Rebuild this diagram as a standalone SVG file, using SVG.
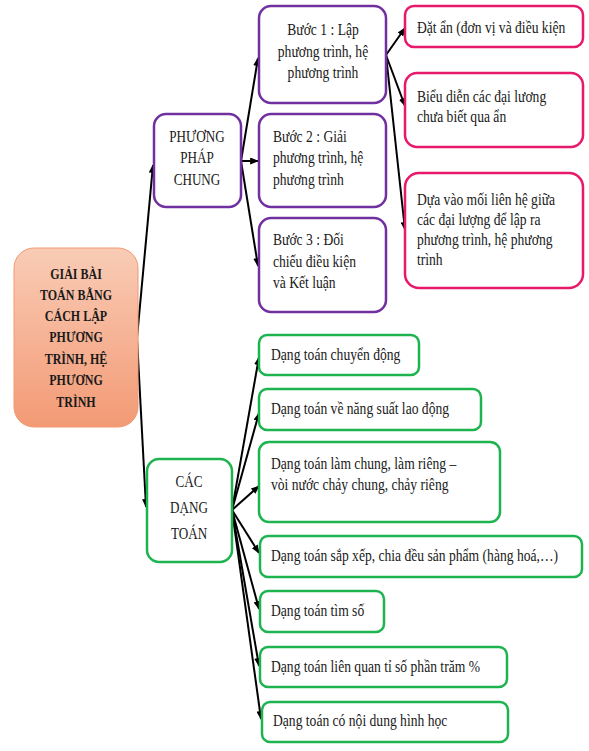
<svg xmlns="http://www.w3.org/2000/svg" width="589" height="751" viewBox="0 0 589 751">
<style>
text{font-family:"Liberation Serif","Times New Roman",serif;font-size:16px;fill:#1a1a1a}
.root text{font-weight:bold;font-size:15px;text-anchor:middle}
.c{text-anchor:middle}
.pp rect{fill:#fff;stroke:#7030a0;stroke-width:2.5}
.pk rect{fill:#fff;stroke:#e8186a;stroke-width:2.5}
.gr rect{fill:#fff;stroke:#1db34f;stroke-width:2.5}
.conn line{stroke:#000;stroke-width:2;marker-end:url(#ah)}
</style>
<defs>
<linearGradient id="rg" x1="0" y1="0" x2="0" y2="1">
<stop offset="0" stop-color="#f9ccb6"/>
<stop offset="1" stop-color="#f39a75"/>
</linearGradient>
<marker id="ah" viewBox="0 0 10 8" refX="9" refY="4" markerWidth="9" markerHeight="7" markerUnits="userSpaceOnUse" orient="auto">
<path d="M0,0 L10,4 L0,8 z" fill="#000"/>
</marker>
</defs>
<rect width="589" height="751" fill="#fff"/>

<g class="conn">
<line x1="137" y1="338" x2="153" y2="165"/>
<line x1="137" y1="338" x2="146" y2="507"/>
<line x1="241" y1="161" x2="258" y2="58"/>
<line x1="241" y1="161" x2="258" y2="161"/>
<line x1="241" y1="161" x2="258" y2="266"/>
<line x1="386" y1="55" x2="405" y2="28"/>
<line x1="386" y1="55" x2="405" y2="106"/>
<line x1="386" y1="55" x2="405" y2="230"/>
<line x1="232" y1="510" x2="259" y2="357"/>
<line x1="232" y1="510" x2="259" y2="413"/>
<line x1="232" y1="510" x2="259" y2="486"/>
<line x1="232" y1="510" x2="259" y2="553"/>
<line x1="232" y1="510" x2="259" y2="609"/>
<line x1="232" y1="510" x2="259" y2="666"/>
<line x1="232" y1="510" x2="261" y2="719"/>
</g>

<g id="root" class="root">
<rect x="14" y="248" width="124" height="179" rx="20" fill="url(#rg)" stroke="#f29a72" stroke-width="1"/>
<text transform="translate(76,279) scale(0.8 1)">GIẢI BÀI</text>
<text transform="translate(76,300) scale(0.8 1)">TOÁN BẰNG</text>
<text transform="translate(76,321) scale(0.8 1)">CÁCH LẬP</text>
<text transform="translate(76,342) scale(0.8 1)">PHƯƠNG</text>
<text transform="translate(76,364) scale(0.8 1)">TRÌNH, HỆ</text>
<text transform="translate(76,385) scale(0.8 1)">PHƯƠNG</text>
<text transform="translate(76,407) scale(0.8 1)">TRÌNH</text>
</g>

<g id="ppchung" class="pp">
<rect x="154" y="114" width="87" height="93" rx="12"/>
<text class="c" transform="translate(197,142) scale(0.82 1)">PHƯƠNG</text>
<text class="c" transform="translate(197,163) scale(0.82 1)">PHÁP</text>
<text class="c" transform="translate(197,185) scale(0.82 1)">CHUNG</text>
</g>

<g id="buoc1" class="pp">
<rect x="259" y="6" width="127" height="97" rx="12"/>
<text class="c" transform="translate(323,35) scale(0.85 1)">Bước 1 : Lập</text>
<text class="c" transform="translate(323,57) scale(0.85 1)">phương trình, hệ</text>
<text class="c" transform="translate(323,78) scale(0.85 1)">phương trình</text>
</g>

<g id="buoc2" class="pp">
<rect x="259" y="114" width="127" height="93" rx="12"/>
<text transform="translate(273,142) scale(0.85 1)">Bước 2 : Giải</text>
<text transform="translate(273,163) scale(0.85 1)">phương trình, hệ</text>
<text transform="translate(273,185) scale(0.85 1)">phương trình</text>
</g>

<g id="buoc3" class="pp">
<rect x="259" y="218" width="127" height="94" rx="12"/>
<text transform="translate(273,245) scale(0.85 1)">Bước 3 : Đối</text>
<text transform="translate(273,267) scale(0.85 1)">chiếu điều kiện</text>
<text transform="translate(273,288) scale(0.85 1)">và Kết luận</text>
</g>

<g id="datan" class="pk">
<rect x="405" y="6" width="178" height="41" rx="9"/>
<text transform="translate(417,33) scale(0.85 1)">Đặt ẩn (đơn vị và điều kiện</text>
</g>

<g id="bieudien" class="pk">
<rect x="405" y="73" width="178" height="74" rx="12"/>
<text transform="translate(417,102) scale(0.85 1)">Biểu diễn các đại lương</text>
<text transform="translate(417,122) scale(0.85 1)">chưa biết qua ẩn</text>
</g>

<g id="duavao" class="pk">
<rect x="405" y="173" width="178" height="115" rx="14"/>
<text transform="translate(417,205) scale(0.85 1)">Dựa vào mối liên hệ giữa</text>
<text transform="translate(417,225) scale(0.85 1)">các đại lượng để lập ra</text>
<text transform="translate(417,245) scale(0.85 1)">phương trình, hệ phương</text>
<text transform="translate(417,265) scale(0.85 1)">trình</text>
</g>

<g id="cacdang" class="gr">
<rect x="147" y="459" width="85" height="103" rx="12"/>
<text class="c" transform="translate(189,487) scale(0.82 1)">CÁC</text>
<text class="c" transform="translate(189,513) scale(0.82 1)">DẠNG</text>
<text class="c" transform="translate(189,539) scale(0.82 1)">TOÁN</text>
</g>

<g id="g1" class="gr">
<rect x="259" y="335" width="160" height="40" rx="8"/>
<text transform="translate(271,360) scale(0.85 1)">Dạng toán chuyển động</text>
</g>

<g id="g2" class="gr">
<rect x="259" y="389" width="222" height="41" rx="8"/>
<text transform="translate(271,414) scale(0.85 1)">Dạng toán về năng suất lao động</text>
</g>

<g id="g3" class="gr">
<rect x="259" y="442" width="241" height="80" rx="10"/>
<text transform="translate(271,469) scale(0.85 1)">Dạng toán làm chung, làm riêng –</text>
<text transform="translate(271,490) scale(0.85 1)">vòi nước chảy chung, chảy riêng</text>
</g>

<g id="g4" class="gr">
<rect x="260" y="536" width="322" height="41" rx="8"/>
<text transform="translate(271,561) scale(0.85 1)">Dạng toán sắp xếp, chia đều sản phẩm (hàng hoá,…)</text>
</g>

<g id="g5" class="gr">
<rect x="260" y="591" width="124" height="41" rx="8"/>
<text transform="translate(271,616) scale(0.85 1)">Dạng toán tìm số</text>
</g>

<g id="g6" class="gr">
<rect x="260" y="647" width="247" height="40" rx="8"/>
<text transform="translate(271,672) scale(0.85 1)">Dạng toán liên quan tỉ số phần trăm %</text>
</g>

<g id="g7" class="gr">
<rect x="262" y="702" width="246" height="40" rx="8"/>
<text transform="translate(273,726) scale(0.85 1)">Dạng toán có nội dung hình học</text>
</g>
</svg>
